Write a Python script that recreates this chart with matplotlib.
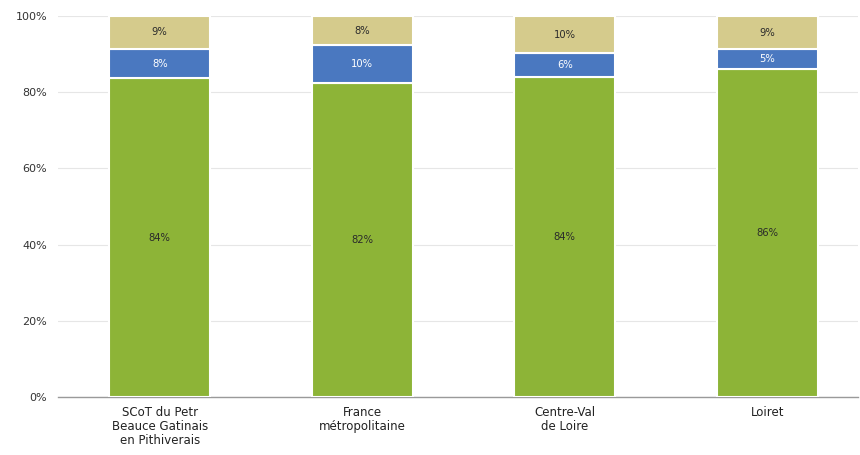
import matplotlib.pyplot as plt
import numpy as np

# share of each component per territory (%)
territories = ["SCoT du Petr\nBeauce Gatinais\nen Pithiverais",
               "France\nmétropolitaine",
               "Centre-Val\nde Loire",
               "Loiret"]
part_green = [83.6, 82.4, 84.0, 86.2]
part_blue = [7.8, 9.9, 6.2, 5.1]
part_tan = [8.6, 7.7, 9.8, 8.7]

colors = ["#8DB437", "#4A78C0", "#D5CB8C"]
label_colors = ["#2b2b2b", "white", "#2b2b2b"]

plt.rcParams['font.family'] = ['DejaVu Sans']
fig = plt.figure(figsize=(8.6, 4.55), dpi=100)
ax = fig.add_axes([0.068, 0.127, 0.93, 0.838])

x = np.arange(len(territories))
bottom = np.zeros(len(territories))
for vals, col, lcol in zip([part_green, part_blue, part_tan], colors, label_colors):
    vals = np.array(vals)
    ax.bar(x, vals, width=0.5, bottom=bottom, color=col,
           edgecolor="white", linewidth=1.5, zorder=3)
    for xi, b, v in zip(x, bottom, vals):
        ax.text(xi, b + v / 2, f"{v:.0f}%", ha="center", va="center",
                fontsize=8, color=lcol, fontstretch="condensed", zorder=4)
    bottom += vals

ax.set_ylim(0, 100)
ax.set_xlim(-0.5, 3.45)
ax.set_yticks(np.arange(0, 101, 20))
ax.set_yticklabels([f"{v}%" for v in range(0, 101, 20)], fontsize=8, color="#333333")
ax.set_xticks(x)
ax.set_xticklabels(territories, fontsize=8.5, color="#222222", linespacing=1.1)
ax.tick_params(axis="both", length=0)
ax.tick_params(axis="y", pad=8)
ax.tick_params(axis="x", pad=6)

ax.yaxis.grid(True, color="#e6e6e6", linewidth=0.8, zorder=0)
for side in ["top", "right", "left"]:
    ax.spines[side].set_visible(False)
ax.spines["bottom"].set_color("#9a9a9a")
ax.spines["bottom"].set_linewidth(1)

fig.savefig("out.png", dpi=100)
